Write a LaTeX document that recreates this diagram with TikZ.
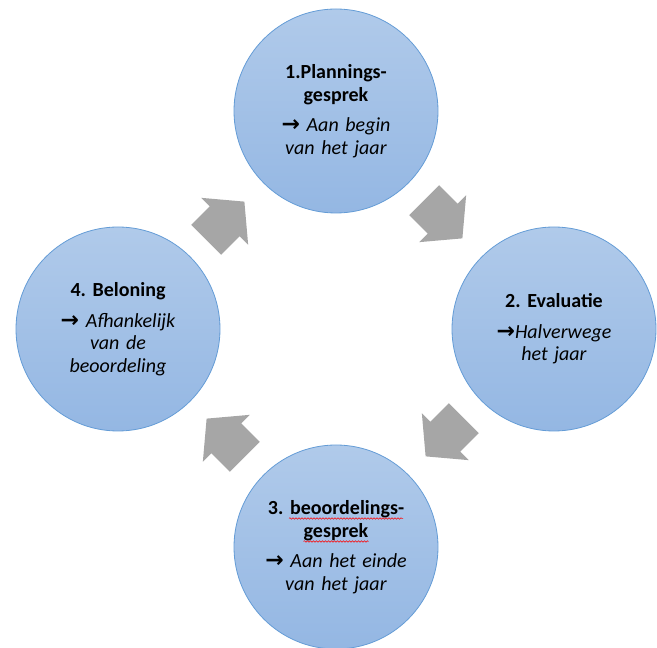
\documentclass[tikz,border=0pt]{standalone}
\usepackage{fontspec}
\setmainfont{Carlito}
\newfontfamily\arrowfont{DejaVu Sans}
\usetikzlibrary{shapes.arrows,positioning,decorations.pathmorphing}

\definecolor{stagetop}{RGB}{176,202,234}
\definecolor{stagebottom}{RGB}{148,183,227}
\definecolor{stageline}{RGB}{100,156,214}
\definecolor{arrowgrey}{RGB}{166,166,166}

\newcommand{\arw}{{\arrowfont\bfseries\upshape\fontsize{22}{22}\selectfont\char"2192}}
\frenchspacing

\begin{document}
\begin{tikzpicture}[x=1pt, y=1pt]
        \tikzstyle{stage} = [circle, draw=stageline, line width=0.8pt, top color=stagetop, bottom color=stagebottom, minimum size=204pt, inner sep=0pt, text width=165pt, align=center, font=\fontsize{20}{22.5}\selectfont, node distance=218pt]
        \tikzstyle{turn} = [single arrow, fill=arrowgrey, draw=none, minimum height=54pt, inner xsep=0pt, inner ysep=21pt, single arrow head extend=12pt, single arrow tip angle=100]
        \tikzstyle{spell} = [red, line width=0.5pt, decorate, decoration={snake, amplitude=0.8pt, segment length=3pt}]
        \useasboundingbox (0,0) rectangle (657,648);
        \coordinate (mid) at (336,319);

        \node[stage, above of=mid](plan){\textbf{1.Plannings-\\gesprek}\\[8pt]\textit{\arw{} Aan begin\\van het jaar}};
        \node[stage, right of=mid](eval){\textbf{2. Evaluatie}\\[8pt]\textit{\arw Halverwege\\het jaar}};
        \node[stage, below of=mid](review){\textbf{3. beoordelings-\\gesprek}\\[8pt]\textit{\arw{} Aan het einde\\van het jaar}};
        \node[stage, left of=mid](reward){\textbf{4. Beloning}\\[8pt]\textit{\arw{} Afhankelijk\\van de\\beoordeling}};

        % spelling marks under the third stage
        \draw[spell] ([shift={(-47,28.5)}]review.center) -- ([shift={(67,28.5)}]review.center);
        \draw[spell] ([shift={(-32.5,5.5)}]review.center) -- ([shift={(32.5,5.5)}]review.center);

        \node[turn, rotate=-45] (t1) at (437,435) {};
        \node[turn, rotate=-135] (t2) at (451,217) {};
        \node[turn, rotate=135] (t3) at (232,204) {};
        \node[turn, rotate=45] (t4) at (219,421) {};
\end{tikzpicture}
\end{document}
